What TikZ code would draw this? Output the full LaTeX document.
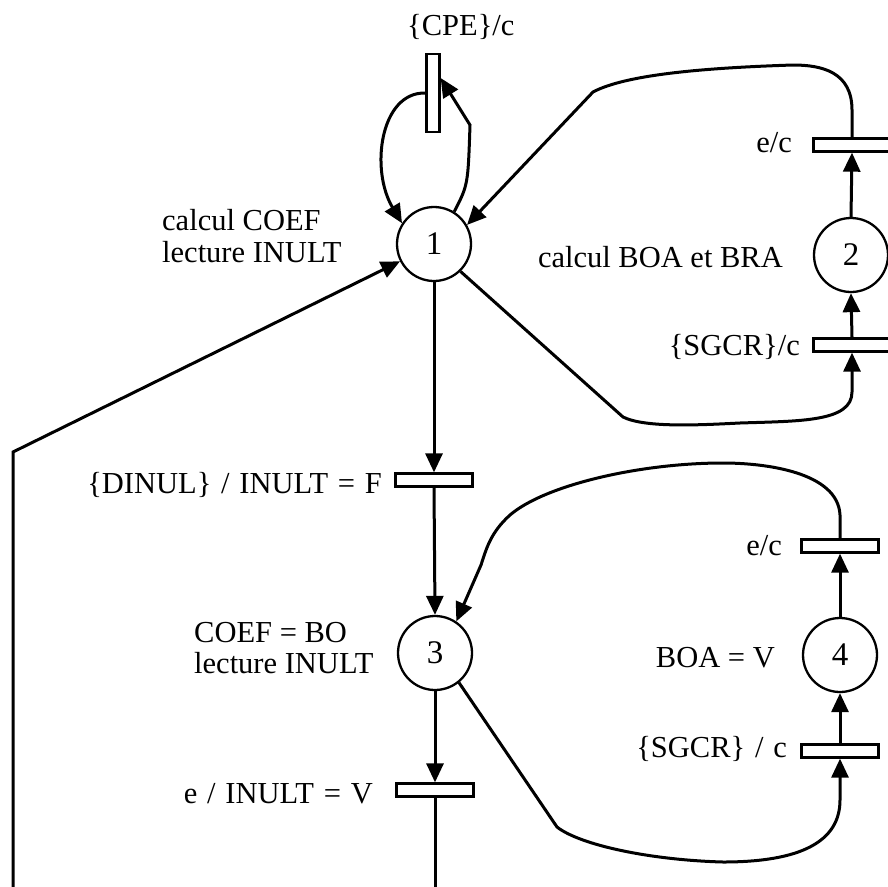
\documentclass[tikz,border=0pt]{standalone}
\usepackage{fontspec}
\setmainfont{Liberation Serif}
\usetikzlibrary{arrows.meta}
\begin{document}
\begin{tikzpicture}[x=1pt,y=-1pt,
  place/.style={circle, draw, line width=2.3pt, minimum size=74pt, inner sep=0pt, font=\fontsize{33}{34}\selectfont},
  htrans/.style={rectangle, draw, line width=2.3pt, minimum width=77pt, minimum height=13pt, inner sep=0pt},
  vtrans/.style={rectangle, draw, line width=2.3pt, minimum width=13pt, minimum height=78pt, inner sep=0pt},
  arc/.style={line width=3pt, -{Triangle[length=19pt,width=17pt]}},
  plainline/.style={line width=3pt},
  lbl/.style={font=\fontsize{30.5}{32}\selectfont, inner sep=0pt},
  wide/.style={execute at begin node={\spaceskip=0.32em plus 0.1em\relax}}]
\clip (0,0) rectangle (888,886);
\fill[white] (0,0) rectangle (888,886);

% places
\node[place] (p1) at (434,244) {1};
\node[place] (p2) at (851,255) {2};
\node[place] (p3) at (435,653) {3};
\node[place] (p4) at (840,655) {4};

% transitions
\node[vtrans] (tC) at (433,93) {};
\node[htrans] (t2e) at (852,145) {};
\node[htrans] (t2s) at (852,345) {};
\node[htrans] (tD) at (434,480) {};
\node[htrans] (t3) at (435,790) {};
\node[htrans] (t4e) at (840,546) {};
\node[htrans] (t4s) at (840,751) {};

% labels
\node[lbl, anchor=base west] (lC) at (407,35) {\{CPE\}/c};
\node[lbl, anchor=base east] (l2e) at (792,152) {e/c};
\node[lbl, anchor=base east] (l2) at (783,267) {calcul BOA et BRA};
\node[lbl, anchor=base east] (l2s) at (800,355) {\{SGCR\}/c};
\node[lbl, anchor=base west] (l1a) at (162,230) {calcul COEF};
\node[lbl, anchor=base west] (l1b) at (162,262) {lecture INULT};
\node[lbl, wide, anchor=base east] (lD) at (382,493) {\{DINUL\} / INULT = F};
\node[lbl, anchor=base west] (l3a) at (194,642) {COEF = BO};
\node[lbl, anchor=base west] (l3b) at (194,673) {lecture INULT};
\node[lbl, wide, anchor=base east] (l3) at (373,803) {e / INULT = V};
\node[lbl, anchor=base east] (l4e) at (782,555) {e/c};
\node[lbl, anchor=base east] (l4) at (775,667) {BOA = V};
\node[lbl, wide, anchor=base east] (l4s) at (787,757) {\{SGCR\} / c};

% CPE self loop
\draw[arc] (tC.west) .. controls (380,92) and (370,170) .. (p1.147);
\draw[arc] (p1.58) .. controls (468,185) .. (470,125) -- ([yshift=15pt]tC.east);

% main column
\draw[arc] (p1.south) -- (tD.north);
\draw[arc] (tD.south) -- (p3.north);
\draw[arc] (p3.south) -- (t3.north);
\coordinate (bot) at (435,890);
\draw[plainline] (t3.south) -- (bot);

% place 2 loop
\draw[arc] (t2s.north) -- (p2.south);
\draw[arc] (p2.north) -- (t2e.south);
\draw[arc] (t2e.north) -- (852,110) .. controls (852,72) and (822,65) .. (793,65)
   .. controls (700,68) and (625,75) .. (593,92) -- (p1.30);
\draw[arc] (p1.-46) -- (623,417) .. controls (645,428) and (700,425) .. (740,423)
   .. controls (800,421) and (852,422) .. (852,392) -- (t2s.south);

% place 4 loop
\draw[arc] (t4s.north) -- (p4.south);
\draw[arc] (p4.north) -- (t4e.south);
\draw[arc] (t4e.north) -- (840,515) .. controls (838,472) and (765,463) .. (723,463)
   .. controls (640,463) and (545,485) .. (510,515) .. controls (490,533) and (486,550) .. (481,565) -- (p3.56);
\draw[arc] (p3.-51) -- (557,827) .. controls (580,845) and (650,860) .. (723,862)
   .. controls (800,862) and (840,842) .. (840,800) -- (t4s.south);

% feedback from below
\coordinate (fb) at (13,890);
\draw[arc] (fb) -- (13,452) -- (p1.207);
\end{tikzpicture}
\end{document}
